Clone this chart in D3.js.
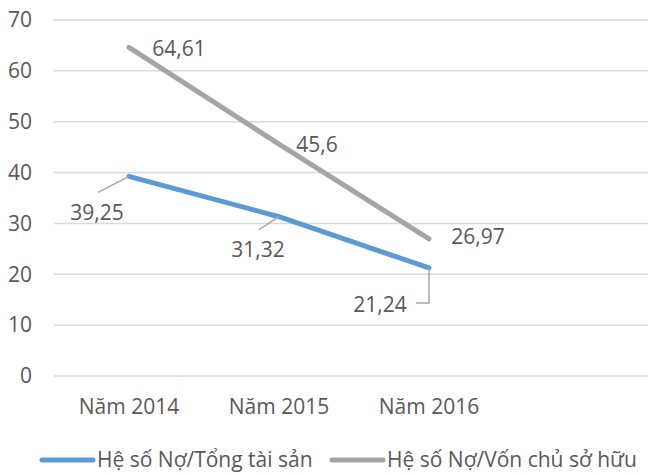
<!DOCTYPE html>
<html>
<head>
<meta charset="utf-8">
<script src="https://cdn.jsdelivr.net/npm/d3@7"></script>
<style>
  body { margin: 0; background: #fff; }
  text { font-family: "Open Sans", sans-serif; fill: #595959; }
</style>
</head>
<body>
<svg id="chart" width="648" height="473"></svg>
<script>
// ========= data =========
const years = ["Năm 2014", "Năm 2015", "Năm 2016"];
const seriesNames = ["Hệ số Nợ/Tổng tài sản", "Hệ số Nợ/Vốn chủ sở hữu"];
const debtToAssets = [39.25, 31.32, 21.24];
const debtToEquity = [64.61, 45.6, 26.97];
const yTicks = [0, 10, 20, 30, 40, 50, 60, 70];

const colors = ["#5B9BD5", "#A5A5A5"];
const fontSize = 21;

// ========= svg =========
const svg = d3.select("#chart");
const width = +svg.attr("width");

const plotLeft = 54;
const x = d3.scaleBand()
    .domain([...years, ""])
    .range([plotLeft, plotLeft + 600]);
const cx = d => x(d) + x.bandwidth() / 2;

const y = d3.scaleLinear()
    .domain([0, 70])
    .range([376, 20]);

// gridlines
svg.append("g")
    .selectAll("line")
    .data(yTicks)
    .join("line")
    .attr("x1", plotLeft)
    .attr("x2", width)
    .attr("y1", d => y(d))
    .attr("y2", d => y(d))
    .attr("stroke", "#d9d9d9")
    .attr("stroke-width", 1.5);

// y labels
svg.append("g")
    .selectAll("text")
    .data(yTicks)
    .join("text")
    .attr("x", 32)
    .attr("y", d => y(d))
    .attr("dy", "0.35em")
    .attr("text-anchor", "end")
    .attr("font-size", fontSize)
    .text(d => d);

// x labels
svg.append("g")
    .selectAll("text")
    .data(years)
    .join("text")
    .attr("x", d => cx(d))
    .attr("y", 407)
    .attr("dy", "0.35em")
    .attr("text-anchor", "middle")
    .attr("font-size", fontSize)
    .text(d => d);

// ========= lines =========
const series = [debtToAssets, debtToEquity];
const line = d3.line()
    .x((d, i) => cx(years[i]))
    .y(d => y(d));

series.forEach((vals, s) => {
    svg.append("path")
        .datum(vals)
        .attr("fill", "none")
        .attr("stroke", colors[s])
        .attr("stroke-width", 5)
        .attr("stroke-linecap", "round")
        .attr("stroke-linejoin", "round")
        .attr("d", line);
});

// ========= data labels =========
// offsets from the point: text centre, plus leader line points
const labelPos = [
    [
        { dx: -32, dy: 36, leader: [[-31, 16], [0, 0]] },
        { dx: -21, dy: 33, leader: [[-20, 13], [0, 0]] },
        { dx: -49, dy: 37, leader: [[-13, 35], [0, 35], [0, 0]] }
    ],
    [
        { dx: 50, dy: 1 },
        { dx: 38, dy: 1 },
        { dx: 49, dy: -2 }
    ]
];
const fmt = v => String(v).replace(".", ",");

series.forEach((vals, s) => {
    vals.forEach((v, i) => {
        const px = cx(years[i]);
        const py = y(v);
        const p = labelPos[s][i];
        if (p.leader) {
            svg.append("path")
                .attr("fill", "none")
                .attr("stroke", "#a6a6a6")
                .attr("stroke-width", 1.5)
                .attr("d", d3.line()(p.leader.map(([a, b]) => [px + a, py + b])));
        }
        svg.append("text")
            .attr("x", px + p.dx)
            .attr("y", py + p.dy)
            .attr("dy", "0.35em")
            .attr("text-anchor", "middle")
            .attr("font-size", fontSize)
            .text(fmt(v));
    });
});

// ========= legend =========
const legendItems = [
    { x: 40, name: seriesNames[0], color: colors[0] },
    { x: 330, name: seriesNames[1], color: colors[1] }
];
const legend = svg.append("g").attr("transform", "translate(0,460)");
legendItems.forEach(d => {
    legend.append("line")
        .attr("x1", d.x + 2)
        .attr("x2", d.x + 53)
        .attr("stroke", d.color)
        .attr("stroke-width", 5)
        .attr("stroke-linecap", "round");
    legend.append("text")
        .attr("x", d.x + 57)
        .attr("dy", "0.35em")
        .attr("font-size", fontSize)
        .text(d.name);
});
</script>
</body>
</html>
